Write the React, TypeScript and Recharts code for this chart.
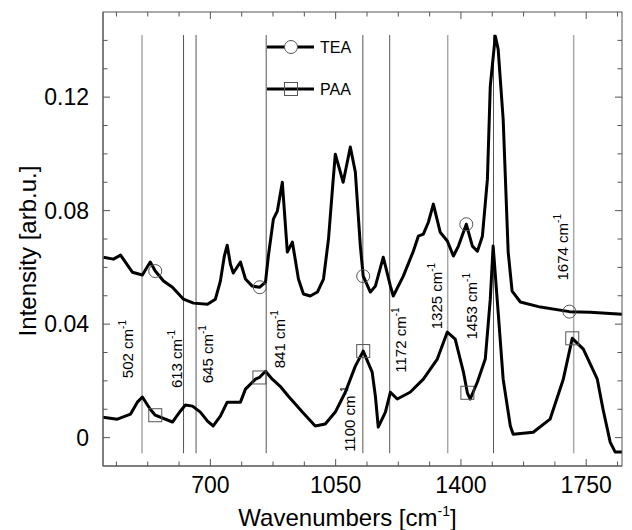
import React from "react";
import { LineChart, Line, XAxis, YAxis, ReferenceLine, ReferenceDot } from "recharts";

const FONT = "Arial, 'Liberation Sans', sans-serif";
const AXIS = "#555";

// TEA spectrum (upper curve)
const teaX = [
  401, 429, 449, 482, 510, 532, 546, 569, 594, 625, 653, 692, 714, 728, 739, 747, 756, 764, 784, 798,
  817, 838, 854, 862, 876, 887, 901, 915, 929, 937, 946, 960, 979, 999, 1016, 1030, 1041, 1049, 1071, 1091,
  1105, 1119, 1127, 1147, 1161, 1183, 1203, 1211, 1239, 1267, 1281, 1295, 1309, 1323, 1342, 1362, 1379, 1393, 1415, 1432,
  1446, 1460, 1474, 1482, 1496, 1504, 1518, 1532, 1543, 1566, 1622, 1703, 1761, 1850,
];
const teaY = [
  0.0636, 0.0629, 0.0643, 0.0583, 0.0573, 0.0619, 0.0587, 0.0552, 0.053, 0.0488, 0.0474, 0.047, 0.0488, 0.0552, 0.064, 0.0678, 0.0611, 0.058, 0.0619, 0.0559,
  0.0534, 0.053, 0.0548, 0.064, 0.077, 0.0798, 0.09, 0.0654, 0.0689, 0.0629, 0.0559, 0.0506, 0.0499, 0.0513, 0.0559, 0.07, 0.0876, 0.0999, 0.09, 0.1024,
  0.0936, 0.0675, 0.0569, 0.0513, 0.0534, 0.0636, 0.0534, 0.0499, 0.0569, 0.0657, 0.071, 0.0717, 0.0759, 0.0823, 0.0724, 0.0693, 0.064, 0.0675, 0.0752, 0.0675,
  0.0657, 0.071, 0.0911, 0.1239, 0.1415, 0.1369, 0.1122, 0.0654, 0.0516, 0.0478, 0.046, 0.0444, 0.0442, 0.0435,
];
const teaMarks = [546, 838, 1127, 1415, 1703];

// PAA spectrum (lower curve)
const paaX = [
  400, 440, 477, 496, 510, 532, 546, 594, 616, 630, 650, 672, 692, 708, 728, 747, 784, 798, 826, 837,
  854, 873, 895, 918, 957, 993, 1021, 1049, 1077, 1105, 1127, 1152, 1161, 1169, 1189, 1203, 1222, 1258, 1295, 1334,
  1362, 1384, 1407, 1418, 1426, 1446, 1468, 1482, 1490, 1504, 1518, 1538, 1546, 1602, 1649, 1686, 1711, 1742, 1781, 1797,
  1817, 1831, 1850,
];
const paaY = [
  0.0072, 0.0065, 0.0083, 0.0125, 0.0143, 0.01, 0.0079, 0.0055, 0.0093, 0.0115, 0.0111, 0.009, 0.0058, 0.0041, 0.0076, 0.0125, 0.0125, 0.0171, 0.0206, 0.0212,
  0.0234, 0.0206, 0.0181, 0.0146, 0.009, 0.0041, 0.0048, 0.009, 0.016, 0.0252, 0.0305, 0.0231, 0.0146, 0.0037, 0.009, 0.016, 0.0136, 0.016, 0.0206, 0.0277,
  0.0372, 0.0347, 0.0231, 0.0158, 0.0136, 0.0196, 0.0277, 0.0488, 0.0675, 0.0442, 0.0206, 0.0041, 0.0012, 0.0019, 0.0065, 0.0206, 0.035, 0.0312, 0.0206, 0.01,
  -0.0016, -0.0051, -0.0051,
];
const paaMarks = [546, 837, 1127, 1418, 1711];

// band markers: where the line sits on the axis, and the printed label
const bandPos = [509, 625, 660, 856, 1126, 1201, 1363, 1491, 1715];
const bandLabels = ["502", "613", "645", "841", "1100", "1172", "1325", "1453", "1674"];
const bandLight = [true, false, false, false, false, false, true, false, true];
// label placement: horizontal offset (px) from the line, vertical centre (data units)
const bandDx = [-9, -2, 17, 19, -8, 16, -6, -16, -6];
const bandLabelY = [0.0312, 0.0277, 0.0294, 0.0347, 0.0065, 0.0344, 0.0499, 0.0463, 0.0671];

const X_MIN = 400;
const X_MAX = 1850;
const Y_MIN = -0.01;
const Y_MAX = 0.15;

const xTicks = [437.5, 525, 612.5, 700, 787.5, 875, 962.5, 1050, 1137.5, 1225, 1312.5, 1400, 1487.5, 1575, 1662.5, 1750, 1837.5];
const xMajor = [700, 1050, 1400, 1750];
const yTicks = [0, 0.01, 0.02, 0.03, 0.04, 0.05, 0.06, 0.07, 0.08, 0.09, 0.1, 0.11, 0.12, 0.13, 0.14];
const yMajor = [0, 0.04, 0.08, 0.12];
const yLabels = ["0", "0.04", "0.08", "0.12"];

// chart box and plot box
const W = 632;
const H = 530;
const PLOT = { left: 103, top: 12, right: 622, bottom: 466 };

const teaData = teaX.map((x, i) => ({ x, y: teaY[i], mark: teaMarks.includes(x) }));
const paaData = paaX.map((x, i) => ({ x, y: paaY[i], mark: paaMarks.includes(x) }));

const isYMajor = (v: number) => yMajor.some((m) => Math.abs(m - v) < 1e-9);

const BottomTick = ({ x, y, payload }: any) =>
  xMajor.includes(payload.value) ? (
    <text x={x} y={y + 27} textAnchor="middle" fontSize={23} fontFamily={FONT} fill="#000">
      {payload.value}
    </text>
  ) : (
    <g />
  );

const LeftTick = ({ x, y, payload }: any) => {
  const k = yMajor.findIndex((v) => Math.abs(v - payload.value) < 1e-9);
  return k >= 0 ? (
    <text x={x - 14} y={y + 8} textAnchor="end" fontSize={23} fontFamily={FONT} fill="#000">
      {yLabels[k]}
    </text>
  ) : (
    <g />
  );
};

const XTitle = ({ viewBox }: any) => {
  const cx = viewBox.x + viewBox.width / 2 - 15;
  return (
    <text x={cx} y={viewBox.y + 60} textAnchor="middle" fontSize={24} fontFamily={FONT} fill="#000">
      Wavenumbers [cm
      <tspan fontSize={14} dy={-10}>-1</tspan>
      <tspan dy={10}>]</tspan>
    </text>
  );
};

const YTitle = ({ viewBox }: any) => {
  const cy = viewBox.y + viewBox.height / 2 + 12;
  return (
    <text x={36} y={cy} transform={`rotate(-90, 36, ${cy})`} textAnchor="middle" fontSize={24} fontFamily={FONT} fill="#000">
      Intensity [arb.u.]
    </text>
  );
};

const circleDot = (p: any) =>
  p.payload.mark ? (
    <circle key={p.index} cx={p.cx} cy={p.cy} r={6.5} fill="none" stroke="#555" strokeWidth={1} />
  ) : (
    <g key={p.index} />
  );

const squareDot = (p: any) =>
  p.payload.mark ? (
    <rect key={p.index} x={p.cx - 6.5} y={p.cy - 6.5} width={13} height={13} fill="none" stroke="#555" strokeWidth={1} />
  ) : (
    <g key={p.index} />
  );

const bandText = (i: number) => (p: any) => {
  const cx = p.cx + bandDx[i];
  const cy = p.cy;
  return (
    <text
      x={cx}
      y={cy}
      transform={`rotate(-90, ${cx}, ${cy})`}
      textAnchor="middle"
      fontSize={15}
      fontFamily={FONT}
      fill="#000"
    >
      {bandLabels[i]} cm
      <tspan fontSize={10} dy={-7}>-1</tspan>
    </text>
  );
};

const legendItems = [
  { name: "TEA", shape: "circle" },
  { name: "PAA", shape: "square" },
];

const seg = (a: [number, number], b: [number, number]) => [
  { x: a[0], y: a[1] },
  { x: b[0], y: b[1] },
];

// frame with inward ticks on all four sides (same domain and box as the chart axes)
function Frame() {
  const sx = (v: number) => PLOT.left + ((v - X_MIN) / (X_MAX - X_MIN)) * (PLOT.right - PLOT.left);
  const sy = (v: number) => PLOT.bottom - ((v - Y_MIN) / (Y_MAX - Y_MIN)) * (PLOT.bottom - PLOT.top);
  return (
    <svg width={W} height={H} style={{ position: "absolute", left: 0, top: 0, pointerEvents: "none" }}>
      <rect
        x={PLOT.left}
        y={PLOT.top}
        width={PLOT.right - PLOT.left}
        height={PLOT.bottom - PLOT.top}
        fill="none"
        stroke={AXIS}
        strokeWidth={1}
      />
      {xTicks.map((t) => {
        const len = xMajor.includes(t) ? 7 : 4.5;
        const x = sx(t);
        return (
          <g key={`xt-${t}`}>
            <line x1={x} x2={x} y1={PLOT.bottom} y2={PLOT.bottom - len} stroke={AXIS} strokeWidth={1} />
            <line x1={x} x2={x} y1={PLOT.top} y2={PLOT.top + len} stroke={AXIS} strokeWidth={1} />
          </g>
        );
      })}
      {yTicks.map((t) => {
        const len = isYMajor(t) ? 7 : 4.5;
        const y = sy(t);
        return (
          <g key={`yt-${t}`}>
            <line x1={PLOT.left} x2={PLOT.left + len} y1={y} y2={y} stroke={AXIS} strokeWidth={1} />
            <line x1={PLOT.right} x2={PLOT.right - len} y1={y} y2={y} stroke={AXIS} strokeWidth={1} />
          </g>
        );
      })}
      {legendItems.map((it, i) => {
        const y = 47 + i * 42;
        return (
          <g key={it.name}>
            <line x1={267} x2={314} y1={y} y2={y} stroke="#000" strokeWidth={3} />
            {it.shape === "circle" ? (
              <circle cx={291} cy={y} r={6.5} fill="#fff" stroke="#555" />
            ) : (
              <rect x={284.5} y={y - 6.5} width={13} height={13} fill="none" stroke="#555" />
            )}
            <text x={320} y={y + 5.5} fontSize={16} fontFamily={FONT} fill="#000">
              {it.name}
            </text>
          </g>
        );
      })}
    </svg>
  );
}

export default function App() {
  return (
    <div style={{ position: "absolute", left: 0, top: 0, width: W, height: H, background: "#fff" }}>
      <LineChart width={W} height={H} margin={{ top: PLOT.top, right: W - PLOT.right, bottom: 0, left: 0 }}>
        <XAxis
          type="number"
          dataKey="x"
          domain={[X_MIN, X_MAX]}
          ticks={xTicks}
          interval={0}
          allowDataOverflow
          height={H - PLOT.bottom}
          tickSize={0}
          tickMargin={0}
          tickLine={false}
          axisLine={{ stroke: AXIS }}
          tick={<BottomTick />}
          label={<XTitle />}
        />
        <YAxis
          type="number"
          domain={[Y_MIN, Y_MAX]}
          ticks={yTicks}
          interval={0}
          allowDataOverflow
          width={PLOT.left}
          tickSize={0}
          tickMargin={0}
          tickLine={false}
          axisLine={{ stroke: AXIS }}
          tick={<LeftTick />}
          label={<YTitle />}
        />
        {bandPos.map((v, i) => (
          <ReferenceLine
            key={`band-${i}`}
            segment={seg([v, 0.1419], [v, -0.0055])}
            stroke={bandLight[i] ? "#a8a8a8" : "#555"}
            strokeWidth={bandLight[i] ? 1.5 : 1}
          />
        ))}
        {bandPos.map((v, i) => (
          <ReferenceDot key={`lab-${i}`} x={v} y={bandLabelY[i]} r={0} shape={bandText(i)} />
        ))}
        <Line
          data={teaData}
          dataKey="y"
          type="linear"
          stroke="#000"
          strokeWidth={3}
          strokeLinejoin="round"
          dot={circleDot}
          activeDot={false}
          isAnimationActive={false}
        />
        <Line
          data={paaData}
          dataKey="y"
          type="linear"
          stroke="#000"
          strokeWidth={3}
          strokeLinejoin="round"
          dot={squareDot}
          activeDot={false}
          isAnimationActive={false}
        />
      </LineChart>
      <Frame />
    </div>
  );
}
